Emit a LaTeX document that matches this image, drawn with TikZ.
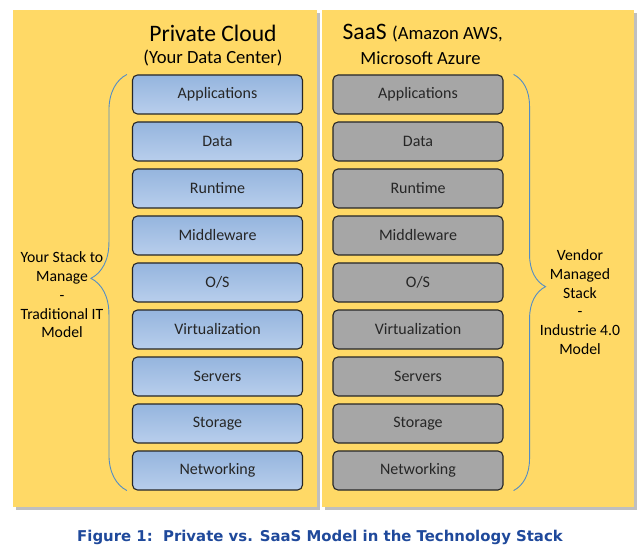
\documentclass[tikz,border=0pt]{standalone}
\usepackage{fontspec}
\setmainfont{Carlito}
\newfontfamily\capfont{DejaVu Sans}
\usetikzlibrary{decorations.pathreplacing}

\definecolor{panelyellow}{RGB}{255,217,102}
\definecolor{bluetop}{RGB}{149,181,222}
\definecolor{bluebot}{RGB}{184,206,236}
\definecolor{stackgrey}{RGB}{166,166,166}
\definecolor{bracecol}{RGB}{84,141,196}
\definecolor{capblue}{RGB}{31,73,155}

\tikzstyle{panel} = [fill=panelyellow, draw=none]
\tikzstyle{layer} = [draw=black!85, line width=1.1pt, rounded corners=5pt,
  minimum width=170pt, minimum height=39pt, font=\fontsize{16}{18}\selectfont, text=black!85]
\tikzstyle{own} = [layer, top color=bluetop, bottom color=bluebot]
\tikzstyle{vendor} = [layer, fill=stackgrey]
\tikzstyle{curly} = [draw=bracecol, line width=0.9pt, decorate]
\tikzstyle{sidenote} = [align=center, font=\fontsize{15.7}{18.7}\selectfont]

\begin{document}
\begin{tikzpicture}[x=1pt, y=-1pt, node distance=47pt]
\useasboundingbox (0,0) rectangle (640,556);

% the two panels, with a soft shadow
\fill[black!25] (16,13) rectangle (320,510);
\fill[black!25] (325,13) rectangle (637,510);
\fill[panel] (13,10) rectangle (317,507);
\fill[panel] (322,10) rectangle (634,507);

% headings
\node (ptitle) at (213,33) {\fontsize{23.6}{26}\selectfont Private Cloud};
\node (psub) at (213,58) {\fontsize{18.6}{21}\selectfont (Your Data Center)};
\node[anchor=west] (stitle) at (339,33) {\fontsize{23.6}{26}\selectfont SaaS \fontsize{18.6}{21}\selectfont(Amazon AWS,};
\node (ssub) at (420.5,58) {\fontsize{18.6}{21}\selectfont Microsoft Azure};

% private stack
\node[own] (p1) at (217.5,94.5) {Applications};
\node[own] (p2) [below of=p1] {Data};
\node[own] (p3) [below of=p2] {Runtime};
\node[own] (p4) [below of=p3] {Middleware};
\node[own] (p5) [below of=p4] {O/S};
\node[own] (p6) [below of=p5] {Virtualization};
\node[own] (p7) [below of=p6] {Servers};
\node[own] (p8) [below of=p7] {Storage};
\node[own] (p9) [below of=p8] {Networking};

% vendor stack
\node[vendor] (s1) at (418,94.5) {Applications};
\node[vendor] (s2) [below of=s1] {Data};
\node[vendor] (s3) [below of=s2] {Runtime};
\node[vendor] (s4) [below of=s3] {Middleware};
\node[vendor] (s5) [below of=s4] {O/S};
\node[vendor] (s6) [below of=s5] {Virtualization};
\node[vendor] (s7) [below of=s6] {Servers};
\node[vendor] (s8) [below of=s7] {Storage};
\node[vendor] (s9) [below of=s8] {Networking};

% braces
\draw[curly, decoration={brace, amplitude=36pt, aspect=0.51}]
  ([xshift=-5pt]p9.south west) -- ([xshift=-5pt]p1.north west);
\draw[curly, decoration={brace, amplitude=32pt, aspect=0.51}]
  ([xshift=10pt]s1.north east) -- ([xshift=10pt]s9.south east);

\node[sidenote] (mine) at (62,295)
  {Your Stack to\\Manage\\-\\Traditional IT\\Model};
\node[sidenote] (theirs) at (580,302)
  {Vendor\\Managed\\Stack\\-\\Industrie 4.0\\Model};

% caption
\node[text=capblue, font=\capfont\bfseries\fontsize{14.9}{17}\selectfont] (cap) at (320,537)
  {Figure 1:\ \ Private vs. SaaS Model in the Technology Stack};
\end{tikzpicture}
\end{document}
